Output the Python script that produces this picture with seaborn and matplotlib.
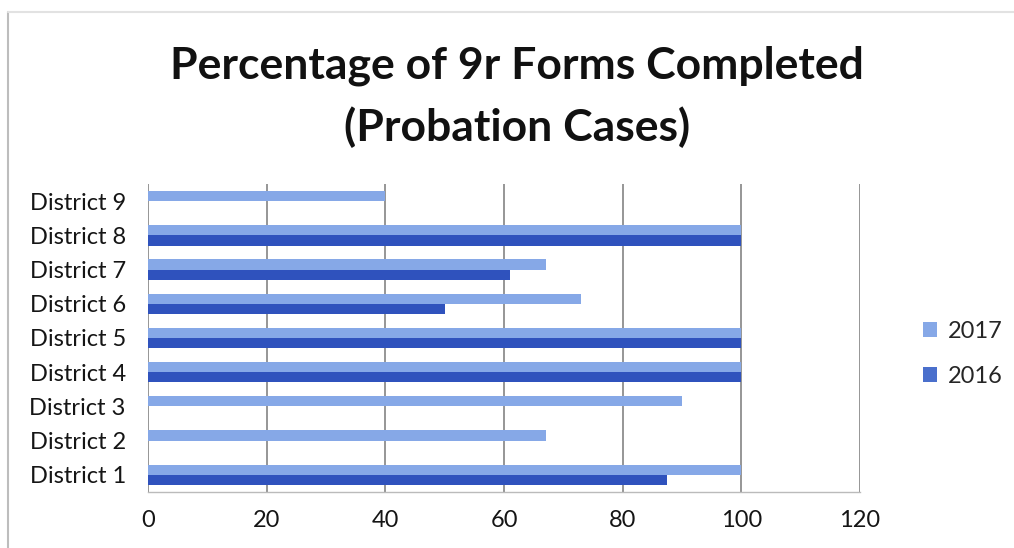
import matplotlib
matplotlib.use("Agg")
import matplotlib.pyplot as plt
from matplotlib.lines import Line2D
from matplotlib.patches import Patch
import seaborn as sns
import pandas as pd

# Chart data
districts = ["District 9", "District 8", "District 7", "District 6", "District 5",
             "District 4", "District 3", "District 2", "District 1"]
pct_2017 = [40, 100, 67, 73, 100, 100, 90, 67, 100]
pct_2016 = [0, 100, 61, 50, 100, 100, 0, 0, 87.5]
years = ["2017", "2016"]
x_ticks = [0, 20, 40, 60, 80, 100, 120]

colors = {"2017": "#86A8E7", "2016": "#2F52BD"}

df = pd.DataFrame({
    "District": districts * 2,
    "Year": ["2017"] * len(districts) + ["2016"] * len(districts),
    "Percent": pct_2017 + pct_2016,
})

sns.set_theme(style="white")
plt.rcParams["font.family"] = ["Lato", "DejaVu Sans"]

fig = plt.figure(figsize=(10.14, 5.48), dpi=100)
ax = fig.add_axes([148 / 1014, 1 - 492 / 548, (860 - 148) / 1014, (492 - 184) / 548])

sns.barplot(data=df, x="Percent", y="District", hue="Year", order=districts,
            hue_order=years, palette=colors, orient="h", width=0.6,
            linewidth=0, saturation=1, ax=ax, legend=False)

ax.set_xlim(0, 120)
ax.set_xticks(x_ticks)
ax.set_xticklabels([str(t) for t in x_ticks], fontsize=17, color="#151515")
ax.tick_params(axis="y", labelsize=17, labelcolor="#151515", length=0, pad=16)
ax.tick_params(axis="x", length=0, pad=13)
ax.set_xlabel("")
ax.set_ylabel("")

# vertical gridlines behind bars
ax.set_axisbelow(True)
ax.xaxis.grid(True, color="#8E8E8E", linewidth=1.3)
ax.yaxis.grid(False)
for side in ["top", "right", "left"]:
    ax.spines[side].set_visible(False)
ax.spines["bottom"].set_color("#BBBBBB")
ax.spines["bottom"].set_linewidth(1.0)

fig.text(517 / 1014, 1 - 66 / 548, "Percentage of 9r Forms Completed",
         ha="center", va="center", fontsize=32, fontweight="bold", color="#111111")
fig.text(517 / 1014, 1 - 127 / 548, "(Probation Cases)",
         ha="center", va="center", fontsize=32, fontweight="bold", color="#111111")

handles = [Patch(facecolor=colors["2017"], edgecolor="none"),
           Patch(facecolor="#4A6FCC", edgecolor="none")]
fig.legend(handles, years, loc="center left", bbox_to_anchor=(902 / 1014, 1 - 354 / 548),
           frameon=False, fontsize=17, handlelength=0.6, handleheight=0.6,
           handletextpad=0.45, labelspacing=1.0)

# light chart frame on the left and top edges
fig.add_artist(Line2D([8 / 1014, 8 / 1014], [0, 1 - 12 / 548], transform=fig.transFigure,
                      color="#BDBDBD", linewidth=1.5))
fig.add_artist(Line2D([8 / 1014, 1], [1 - 12 / 548, 1 - 12 / 548], transform=fig.transFigure,
                      color="#E2E2E2", linewidth=1.5))

fig.savefig("out.png", dpi=100)
